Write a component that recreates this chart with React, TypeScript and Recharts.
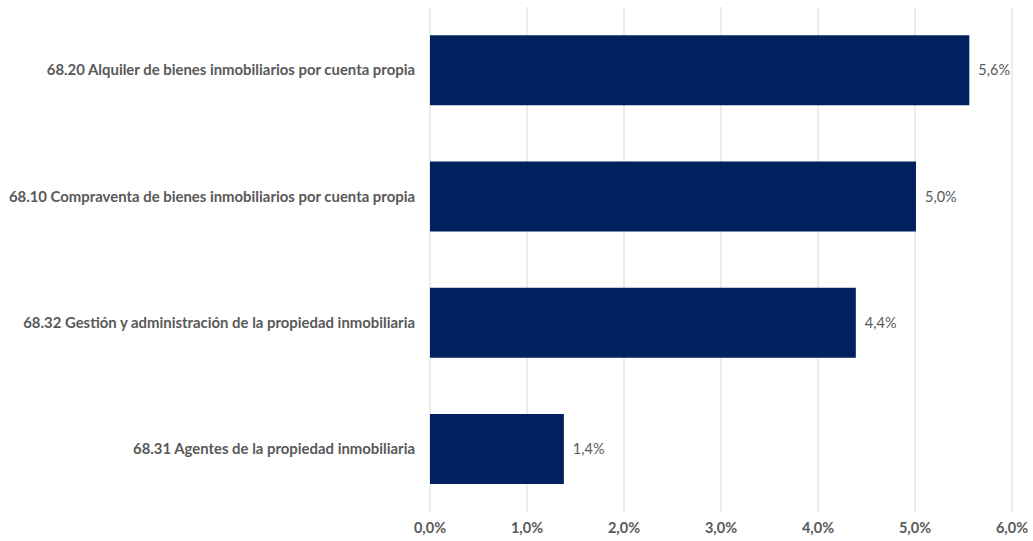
import React from "react";
import { BarChart, Bar, XAxis, YAxis, CartesianGrid, LabelList } from "recharts";

const categories = [
  "68.20 Alquiler de bienes inmobiliarios por cuenta propia",
  "68.10 Compraventa de bienes inmobiliarios por cuenta propia",
  "68.32 Gestión y administración de la propiedad inmobiliaria",
  "68.31 Agentes de la propiedad inmobiliaria",
];
const shares = [5.56, 5.01, 4.39, 1.38];
const xTicks = [0, 1, 2, 3, 4, 5, 6];

const fmt = (v: number) => `${v.toFixed(1).replace(".", ",")}%`;

const data = categories.map((name, i) => ({ name, value: shares[i] }));

const FONT = "Lato, 'Noto Sans', sans-serif";

export default function App() {
  return (
    <div style={{ position: "fixed", top: 0, left: 0, background: "#fff" }}>
      <BarChart
        width={1033}
        height={541}
        data={data}
        layout="vertical"
        margin={{ top: 7, right: 21, bottom: 0, left: 0 }}
        barCategoryGap="22.3%"
      >
        <CartesianGrid horizontal={false} stroke="#d9d9d9" />
        <XAxis
          type="number"
          domain={[0, 6]}
          ticks={xTicks}
          tickFormatter={fmt}
          axisLine={false}
          tickLine={false}
          tickSize={0}
          tickMargin={11}
          height={29}
          interval={0}
          tick={{ fontSize: 14.5, fontWeight: 700, fill: "#595959", fontFamily: FONT }}
        />
        <YAxis
          type="category"
          dataKey="name"
          width={430}
          axisLine={false}
          tickLine={false}
          tickSize={0}
          tickMargin={15}
          interval={0}
          tick={{ fontSize: 14.9, fontWeight: 700, fill: "#595959", fontFamily: FONT }}
        />
        <Bar dataKey="value" fill="#002060" isAnimationActive={false}>
          <LabelList
            dataKey="value"
            position="right"
            offset={9}
            formatter={(v: number) => fmt(v)}
            style={{ fontSize: 14.5, fill: "#595959", fontFamily: FONT }}
          />
        </Bar>
      </BarChart>
    </div>
  );
}
